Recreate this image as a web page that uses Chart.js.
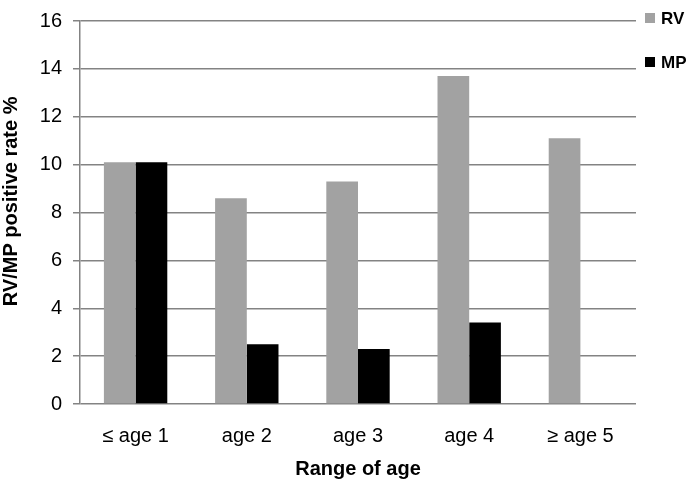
<!DOCTYPE html>
<html>
<head>
<meta charset="utf-8">
<script src="https://cdn.jsdelivr.net/npm/chart.js@4.4.1/dist/chart.umd.min.js"></script>
<style>
    html, body { margin: 0; padding: 0; background: #ffffff; }
    #wrap { width: 692px; height: 484px; }
</style>
</head>
<body>
<div id="wrap"><canvas id="ageChart" width="692" height="484"></canvas></div>
<script>
// Datos del gráfico
const categories = ['\u2264 age 1', 'age 2', 'age 3', 'age 4', '\u2265 age 5'];
const rvValues = [10.1, 8.6, 9.3, 13.7, 11.1];
const mpValues = [10.1, 2.5, 2.3, 3.4, 0];
const yTicks = [0, 2, 4, 6, 8, 10, 12, 14, 16];

const FONT = "'Liberation Sans', Arial, sans-serif";

// Leyenda dibujada a la derecha del área del gráfico
const sideLegend = {
    id: 'sideLegend',
    afterDraw(chart) {
        const ctx = chart.ctx;
        const x = chart.chartArea.right + 9;
        ctx.save();
        ctx.font = 'bold 17px ' + FONT;
        ctx.textBaseline = 'middle';
        ctx.textAlign = 'left';
        chart.data.datasets.forEach((ds, i) => {
            const cy = 18 + i * 44;
            ctx.fillStyle = ds.backgroundColor;
            ctx.fillRect(x, cy - 5, 10, 10);
            ctx.fillStyle = '#000000';
            ctx.fillText(ds.label, x + 16, cy + 1);
        });
        ctx.restore();
    }
};

new Chart(document.getElementById('ageChart'), {
    type: 'bar',
    data: {
        labels: categories,
        datasets: [{
            label: 'RV',
            data: rvValues,
            backgroundColor: '#a2a2a2',
            borderWidth: 0,
            categoryPercentage: 0.57,
            barPercentage: 1.0
        }, {
            label: 'MP',
            data: mpValues,
            backgroundColor: '#000000',
            borderWidth: 0,
            categoryPercentage: 0.57,
            barPercentage: 1.0
        }]
    },
    options: {
        responsive: false,
        animation: false,
        layout: {
            padding: { top: 11, right: 56, bottom: 0, left: 0 }
        },
        plugins: {
            legend: { display: false },
            tooltip: { enabled: false }
        },
        scales: {
            x: {
                grid: { display: false, drawTicks: false },
                border: { display: false },
                ticks: {
                    color: '#000000',
                    font: { family: FONT, size: 20 },
                    padding: 20,
                    maxRotation: 0
                },
                title: {
                    display: true,
                    text: 'Range of age',
                    color: '#000000',
                    font: { family: FONT, size: 20, weight: 'bold' },
                    padding: { top: 0, bottom: 3 }
                },
                afterFit(scale) { scale.width = scale.width; scale.height = 80; }
            },
            y: {
                min: 0,
                max: 16,
                afterBuildTicks(scale) {
                    scale.ticks = yTicks.map(v => ({ value: v }));
                },
                grid: {
                    color: '#838383',
                    lineWidth: 1.5,
                    tickLength: 7,
                    tickColor: '#838383'
                },
                border: { display: true, color: '#838383', width: 1.5 },
                ticks: {
                    color: '#000000',
                    font: { family: FONT, size: 20, lineHeight: 1 },
                    padding: 11
                },
                title: {
                    display: true,
                    // espacios iniciales para subir un poco el título como en el original
                    text: '    RV/MP positive rate %',
                    color: '#000000',
                    font: { family: FONT, size: 20, weight: 'bold', lineHeight: 1 },
                    padding: { top: 1, bottom: 0 }
                },
                afterFit(scale) { scale.width = 80; }
            }
        }
    },
    plugins: [sideLegend]
});
</script>
</body>
</html>
